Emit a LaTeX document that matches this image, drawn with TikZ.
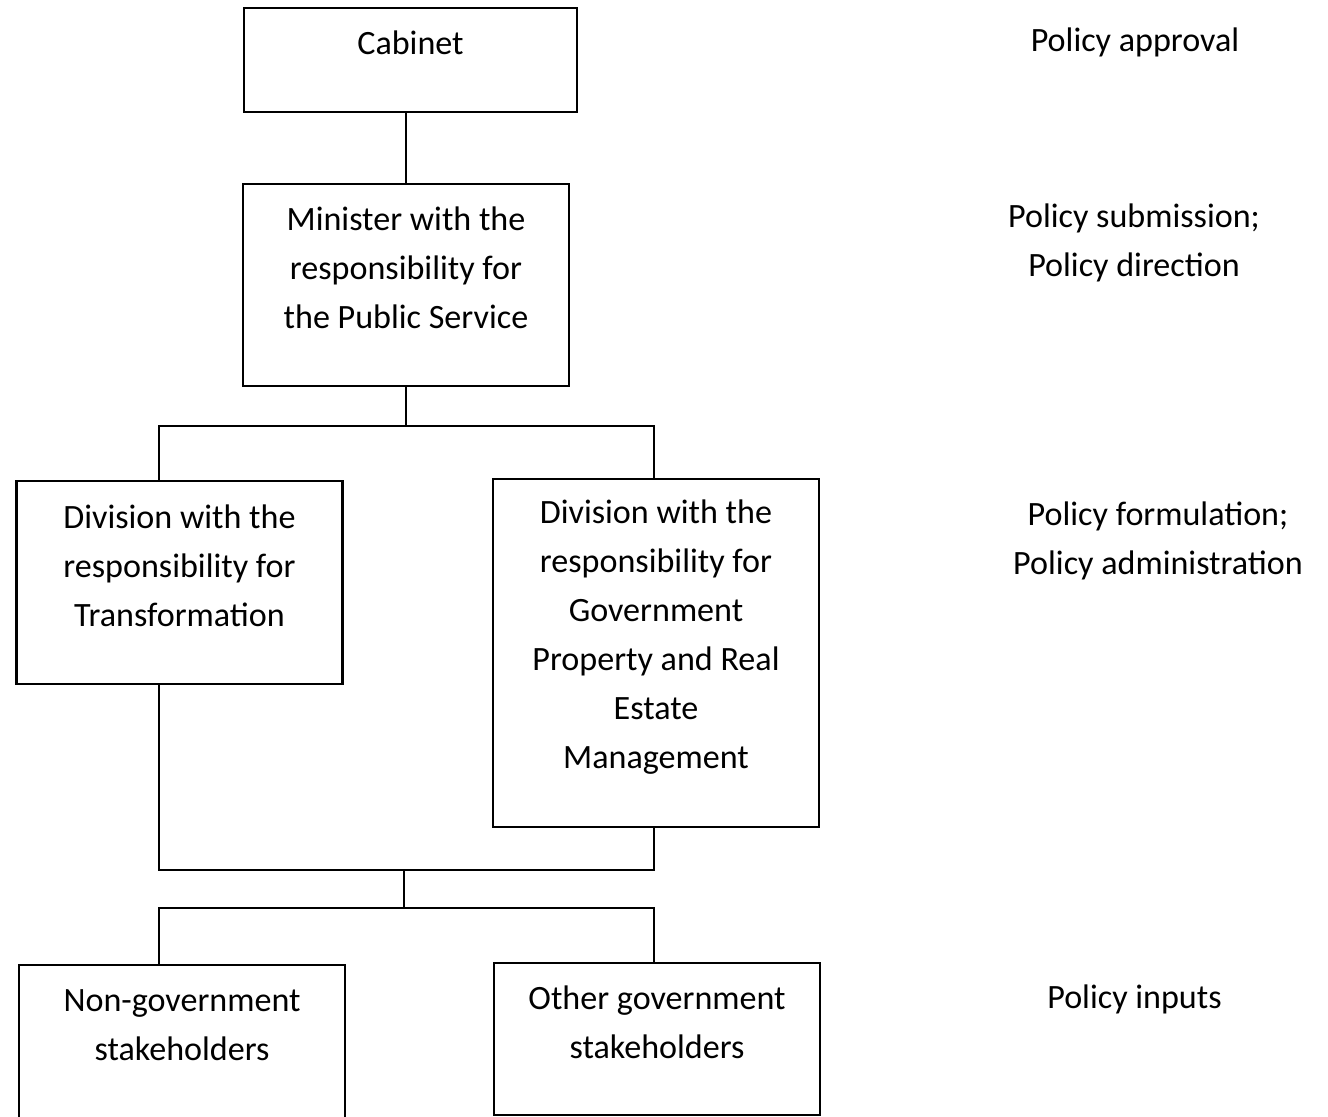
\documentclass[tikz,border=0pt]{standalone}
\usepackage{fontspec}
\setmainfont{Carlito}
\usepackage{tikz}
\usetikzlibrary{positioning,calc}

\begin{document}
\begin{tikzpicture}[
  x=0.02cm, y=-0.02cm,
  caja/.style={draw=black, line width=1.6pt, minimum width=6.52cm,
    minimum height=#1, inner sep=0pt},
  texto/.style={align=center, inner sep=0pt,
    font=\fontsize{19.4}{27.9}\selectfont},
  linea/.style={line width=1.6pt, draw=black}
]
\useasboundingbox (0,0) rectangle (1328,1116);
% cajas
\node[caja=2.08cm, minimum width=6.66cm] (cab) at (410.5,60) {};
\node[caja=4.04cm] (min) at (406,285) {};
\node[caja=4.06cm] (divt) at (179.5,582.5) {};
\node[caja=6.96cm] (divg) at (656,653) {};
\node[caja=3.08cm] (nong) at (182,1042) {};
\node[caja=3.04cm] (otrg) at (657,1039) {};
% textos de las cajas
\node[texto] at ([yshift=0.34cm]cab.center) {Cabinet};
\node[texto] at ([yshift=0.35cm]min.center)
  {Minister with the\\responsibility for\\the Public Service};
\node[texto] at ([yshift=0.34cm]divt.center)
  {Division with the\\responsibility for\\Transformation};
\node[texto] at ([yshift=0.31cm]divg.center)
  {Division with the\\responsibility for\\Government\\Property and Real\\Estate\\Management};
\node[texto] at ([yshift=0.34cm]nong.center)
  {Non-government\\stakeholders};
\node[texto] at ([yshift=0.33cm]otrg.center)
  {Other government\\stakeholders};
% funciones
\node[texto] (f1) at (1135,42) {Policy approval};
\node[texto] (f2) at (1134,243) {Policy submission;\\Policy direction};
\node[texto] (f3) at (1158,541) {Policy formulation;\\Policy administration};
\node[texto] (f4) at (1134.5,999) {Policy inputs};
% conectores
\coordinate (izq) at (159,0);
\coordinate (der) at (654,0);
\coordinate (bus1) at (406,426);
\coordinate (bus2) at (404,870);
\coordinate (bus3) at (404,908);
\draw[linea] (min.north) -- (min.north |- cab.south);
\draw[linea] (min.south) -- (bus1);
\draw[linea] (izq |- divt.north) |- (bus1) -| (der |- divg.north);
\draw[linea] (izq |- divt.south) |- (bus2) -| (der |- divg.south);
\draw[linea] (bus2) -- (bus3);
\draw[linea] (izq |- nong.north) |- (bus3) -| (der |- otrg.north);
\end{tikzpicture}
\end{document}
